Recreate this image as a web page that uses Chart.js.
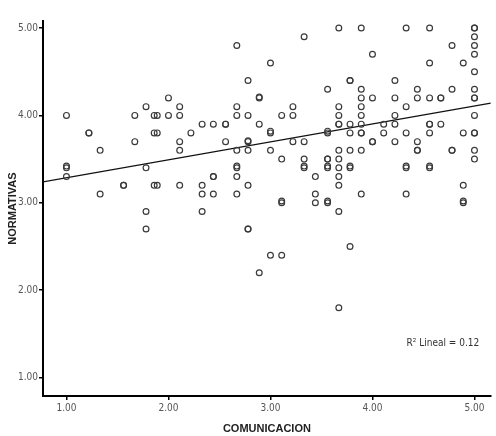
<!DOCTYPE html>
<html>
<head>
<meta charset="utf-8">
<script src="https://cdn.jsdelivr.net/npm/chart.js@4.4.1/dist/chart.umd.min.js"></script>
<style>
  html, body { margin: 0; padding: 0; background: #fff; }
  #wrap { width: 496px; height: 436px; position: relative; }
</style>
</head>
<body>
<div id="wrap"><canvas id="scatterChart"></canvas></div>
<script>
// COMUNICACION (x) and NORMATIVAS (y)
const comunicacion = [
  1.00, 1.00, 1.00, 1.00,
  1.22, 1.22,
  1.33, 1.33,
  1.56, 1.56,
  1.67, 1.67,
  1.78, 1.78, 1.78, 1.78,
  1.86, 1.86, 1.86,
  1.89, 1.89, 1.89,
  2.00, 2.00,
  2.11, 2.11, 2.11, 2.11, 2.11,
  2.22,
  2.33, 2.33, 2.33, 2.33,
  2.44, 2.44, 2.44, 2.44,
  2.56, 2.56, 2.56,
  2.67, 2.67, 2.67, 2.67, 2.67, 2.67, 2.67, 2.67,
  2.78, 2.78, 2.78, 2.78, 2.78, 2.78, 2.78, 2.78,
  2.89, 2.89, 2.89, 2.89,
  3.00, 3.00, 3.00, 3.00, 3.00,
  3.11, 3.11, 3.11, 3.11, 3.11,
  3.22, 3.22, 3.22,
  3.33, 3.33, 3.33, 3.33, 3.33,
  3.44, 3.44, 3.44,
  3.56, 3.56, 3.56, 3.56, 3.56, 3.56, 3.56, 3.56, 3.56,
  3.67, 3.67, 3.67, 3.67, 3.67, 3.67, 3.67, 3.67, 3.67, 3.67, 3.67, 3.67,
  3.78, 3.78, 3.78, 3.78, 3.78, 3.78, 3.78, 3.78,
  3.89, 3.89, 3.89, 3.89, 3.89, 3.89, 3.89, 3.89, 3.89, 3.89,
  4.00, 4.00, 4.00, 4.00,
  4.11, 4.11,
  4.22, 4.22, 4.22, 4.22, 4.22,
  4.33, 4.33, 4.33, 4.33, 4.33, 4.33,
  4.44, 4.44, 4.44, 4.44, 4.44,
  4.56, 4.56, 4.56, 4.56, 4.56, 4.56, 4.56, 4.56,
  4.67, 4.67, 4.67,
  4.78, 4.78, 4.78, 4.78,
  4.89, 4.89, 4.89, 4.89, 4.89,
  5.00, 5.00, 5.00, 5.00, 5.00, 5.00, 5.00, 5.00, 5.00, 5.00, 5.00, 5.00, 5.00, 5.00
];
const normativas = [
  4.00, 3.40, 3.42, 3.30,
  3.80, 3.80,
  3.60, 3.10,
  3.20, 3.20,
  4.00, 3.70,
  4.10, 3.40, 2.90, 2.70,
  4.00, 3.80, 3.20,
  4.00, 3.80, 3.20,
  4.20, 4.00,
  4.10, 4.00, 3.70, 3.60, 3.20,
  3.80,
  3.90, 3.20, 3.10, 2.90,
  3.90, 3.30, 3.30, 3.10,
  3.90, 3.90, 3.70,
  4.80, 4.10, 4.00, 3.60, 3.40, 3.42, 3.30, 3.10,
  4.40, 4.00, 3.70, 3.71, 3.60, 3.20, 2.70, 2.70,
  4.20, 4.21, 3.90, 2.20,
  4.60, 3.80, 3.82, 3.60, 2.40,
  4.00, 3.50, 3.00, 3.02, 2.40,
  4.10, 4.00, 3.70,
  4.90, 3.70, 3.50, 3.40, 3.42,
  3.30, 3.10, 3.00,
  4.30, 3.80, 3.82, 3.50, 3.50, 3.40, 3.42, 3.00, 3.02,
  5.00, 4.10, 4.00, 3.90, 3.90, 3.60, 3.50, 3.40, 3.30, 3.20, 2.90, 1.80,
  4.40, 4.40, 3.90, 3.80, 3.60, 3.40, 3.42, 2.50,
  5.00, 4.30, 4.20, 4.10, 4.00, 3.90, 3.80, 3.80, 3.60, 3.10,
  4.70, 4.20, 3.70, 3.70,
  3.90, 3.80,
  4.40, 4.20, 4.00, 3.90, 3.70,
  5.00, 4.10, 3.80, 3.40, 3.42, 3.10,
  4.30, 4.20, 3.70, 3.60, 3.60,
  5.00, 4.60, 4.20, 3.90, 3.90, 3.80, 3.40, 3.42,
  4.20, 4.20, 3.90,
  4.80, 4.30, 3.60, 3.60,
  4.60, 3.80, 3.20, 3.00, 3.02,
  5.00, 5.00, 4.90, 4.80, 4.70, 4.50, 4.30, 4.20, 4.20, 4.00, 3.80, 3.80, 3.60, 3.50
];
// fitted line, end points
const lineaX = [0.77, 5.16];
const lineaY = [3.24, 4.14];
const xTicks = [1, 2, 3, 4, 5];
const yTicks = [1, 2, 3, 4, 5];
const r2Label = 'R\u00b2 Lineal = 0.12';

const tickFont = { family: "'Liberation Sans Narrow', 'DejaVu Sans Condensed', 'Liberation Sans', sans-serif", size: 10 };
const titleFont = { family: "'Liberation Sans', Arial, sans-serif", size: 11, weight: 'bold' };

const r2Plugin = {
  id: 'r2Label',
  afterDraw(chart) {
    const { ctx, scales } = chart;
    ctx.save();
    ctx.font = `10px ${tickFont.family}`;
    ctx.fillStyle = '#333';
    ctx.textAlign = 'center';
    ctx.textBaseline = 'middle';
    ctx.fillText(r2Label, scales.x.getPixelForValue(4.69), scales.y.getPixelForValue(1.39));
    ctx.restore();
  }
};

function setupChart() {
  const points = comunicacion.map((x, i) => ({ x, y: normativas[i] }));
  const linePoints = lineaX.map((x, i) => ({ x, y: lineaY[i] }));
  const canvas = document.getElementById('scatterChart');
  return new Chart(canvas.getContext('2d'), {
    type: 'scatter',
    data: {
      datasets: [
        {
          type: 'line',
          data: linePoints,
          borderColor: '#111',
          borderWidth: 1.2,
          pointRadius: 0,
          fill: false,
          order: 2
        },
        {
          data: points,
          pointStyle: 'circle',
          pointRadius: 2.9,
          borderWidth: 1.2,
          borderColor: '#3a3a3a',
          backgroundColor: 'rgba(0,0,0,0)',
          order: 1
        }
      ]
    },
    options: {
      responsive: true,
      maintainAspectRatio: false,
      animation: false,
      devicePixelRatio: 1,
      layout: { padding: { top: 21, right: 0, bottom: 0, left: 0 } },
      plugins: { legend: { display: false }, tooltip: { enabled: false } },
      scales: {
        x: {
          type: 'linear',
          min: 0.77,
          max: 5.16,
          afterBuildTicks: scale => { scale.ticks = xTicks.map(value => ({ value })); },
          afterFit: scale => { scale.height = 40; },
          grid: { drawOnChartArea: false, drawTicks: true, tickLength: 4, color: '#000', lineWidth: 1.5 },
          border: { display: true, color: '#000', width: 2 },
          ticks: { font: tickFont, color: '#555', padding: 2, maxRotation: 0, callback: v => Number(v).toFixed(2) },
          title: { display: true, text: 'COMUNICACION', font: titleFont, color: '#222', padding: { top: 0, bottom: 0 } }
        },
        y: {
          type: 'linear',
          min: 0.79,
          max: 5.08,
          afterBuildTicks: scale => { scale.ticks = yTicks.map(value => ({ value })); },
          afterFit: scale => { scale.width = 43; },
          grid: { drawOnChartArea: false, drawTicks: true, tickLength: 4, color: '#000', lineWidth: 1.5 },
          border: { display: true, color: '#000', width: 2 },
          ticks: { font: tickFont, color: '#555', padding: 1, callback: v => Number(v).toFixed(2) },
          title: { display: true, text: 'NORMATIVAS', font: titleFont, color: '#222', padding: { top: 6, bottom: 0 } }
        }
      }
    },
    plugins: [r2Plugin]
  });
}

document.addEventListener('DOMContentLoaded', setupChart);
</script>
</body>
</html>
